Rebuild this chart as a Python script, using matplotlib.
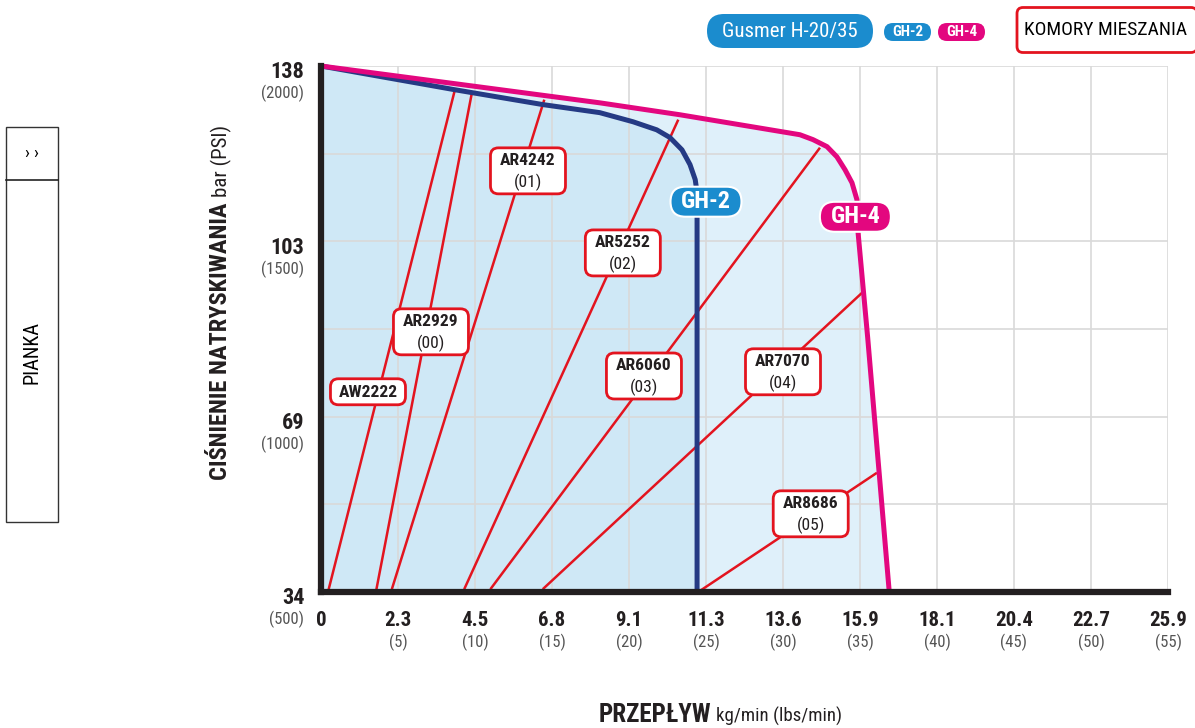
import matplotlib.pyplot as plt
from matplotlib.patches import FancyBboxPatch, Rectangle
from matplotlib.lines import Line2D
import matplotlib.transforms as mtransforms

plt.rcParams['font.family'] = ['Roboto Condensed', 'Roboto', 'DejaVu Sans']

# ---- data (flow in lbs/min, pressure in PSI) ----
kg_labels = ['0', '2.3', '4.5', '6.8', '9.1', '11.3', '13.6', '15.9', '18.1', '20.4', '22.7', '25.9']
lbs_ticks = [0, 5, 10, 15, 20, 25, 30, 35, 40, 45, 50, 55]
psi_ticks = [500, 1000, 1500, 2000]
bar_labels = ['34', '69', '103', '138']

# GH-4 envelope
gh4_x = [0, 18.1, 23.3, 31.1, 31.95, 32.86, 33.5, 34.03, 34.48, 34.8, 34.87, 35.5, 36.9]
gh4_y = [2000, 1895, 1861, 1804, 1790, 1770, 1741, 1704, 1667, 1619, 1527, 1225, 500]
# GH-2 envelope
gh2_x = [0, 8.6, 14.4, 18.1, 20.26, 21.8, 22.66, 23.44, 23.96, 24.3, 24.42, 24.42]
gh2_y = [2000, 1933, 1890, 1867, 1841, 1818, 1796, 1761, 1719, 1676, 1639, 500]

# mixing chambers
ar_names = ['AW2222', 'AR2929', 'AR4242', 'AR5252', 'AR6060', 'AR7070', 'AR8686']
ar_codes = ['', '(00)', '(01)', '(02)', '(03)', '(04)', '(05)']
ar_x0 = [0.5, 3.6, 4.6, 9.3, 11.0, 14.4, 24.6]
ar_y0 = [508, 508, 508, 508, 508, 508, 503]
ar_x1 = [8.7, 9.8, 14.5, 23.2, 32.4, 35.2, 36.1]
ar_y1 = [1933, 1924, 1904, 1847, 1767, 1356, 840]
ar_lx = [3.05, 7.14, 13.44, 19.6, 20.97, 30.0, 31.8]
ar_ly = [1071, 1242, 1701, 1467, 1116, 1128, 723]

W, H = 1195, 728
RED = '#e3141f'
NAVY = '#253a84'
MAG = '#e3077f'
BLUE = '#1b8cce'
DARK = '#231f20'
GREY = '#555555'

fig = plt.figure(figsize=(W / 100, H / 100), dpi=100)
ax = fig.add_axes([321 / W, 1 - 592 / H, 847 / W, 526 / H])
ax.set_xlim(0, 55)
ax.set_ylim(500, 2000)

# fills
ax.fill(gh4_x + [0], gh4_y + [500], color='#dff0fa', lw=0, zorder=1)
ax.fill(gh2_x + [0], gh2_y + [500], color='#cfe8f6', lw=0, zorder=1.1)

# grid
ax.set_xticks(lbs_ticks)
ax.set_xticklabels(kg_labels, fontsize=15, fontweight='bold', color=DARK)
ax.set_yticks(psi_ticks)
ax.set_yticks([750, 1250, 1750], minor=True)
ax.set_yticklabels(bar_labels, fontsize=16, fontweight='bold', color=DARK)
ax.grid(True, which='both', color='#d9d9d9', lw=1.2)
ax.set_axisbelow('line')
ax.tick_params(axis='both', which='both', length=0)
ax.tick_params(axis='x', pad=14)
ax.tick_params(axis='y', pad=12)
shift = mtransforms.ScaledTranslation(0, -4 / 100, fig.dpi_scale_trans)
for lab in ax.get_yticklabels():
    lab.set_transform(lab.get_transform() + shift)
for s in ['top', 'right']:
    ax.spines[s].set_visible(False)
for s in ['left', 'bottom']:
    ax.spines[s].set_linewidth(4.5)
    ax.spines[s].set_color(DARK)
    ax.spines[s].set_zorder(6)

# mixing chamber lines
for i in range(len(ar_names)):
    ax.plot([ar_x0[i], ar_x1[i]], [ar_y0[i], ar_y1[i]], color=RED, lw=1.8, zorder=3,
            solid_capstyle='butt')

ax.plot(gh2_x, gh2_y, color=NAVY, lw=3.6, zorder=4, clip_on=False, solid_joinstyle='round')
ax.plot(gh4_x, gh4_y, color=MAG, lw=3.6, zorder=5, clip_on=False, solid_joinstyle='round')

PIX = mtransforms.IdentityTransform()


def box_at(x, y, w, h, r, fc, ec, lw, trans, z=7):
    t = mtransforms.Affine2D() + mtransforms.ScaledTranslation(x, y, trans)
    p = FancyBboxPatch((-w / 2, -h / 2), w, h, boxstyle='round,pad=0,rounding_size=%g' % r,
                       fc=fc, ec=ec, lw=lw, transform=t, zorder=z, clip_on=False)
    return p


# chamber labels
for i in range(len(ar_names)):
    if ar_codes[i]:
        ax.add_artist(box_at(ar_lx[i], ar_ly[i], 75, 46, 8, 'white', RED, 2, ax.transData))
        ax.annotate(ar_names[i], (ar_lx[i], ar_ly[i]), xytext=(0, 7.5), textcoords='offset points',
                    ha='center', va='center', fontsize=12.6, fontweight='bold', color=DARK, zorder=8)
        ax.annotate(ar_codes[i], (ar_lx[i], ar_ly[i]), xytext=(0, -8), textcoords='offset points',
                    ha='center', va='center', fontsize=12.6, color=DARK, zorder=8)
    else:
        ax.add_artist(box_at(ar_lx[i], ar_ly[i], 75, 26, 8, 'white', RED, 2, ax.transData))
        ax.annotate(ar_names[i], (ar_lx[i], ar_ly[i]), xytext=(0, -0.5), textcoords='offset points',
                    ha='center', va='center', fontsize=12.6, fontweight='bold', color=DARK, zorder=8)

# GH-2 / GH-4 tags on curves
ax.add_artist(box_at(25.0, 1613, 71, 30, 15, BLUE, 'white', 1.5, ax.transData))
ax.text(25.0, 1613, 'GH-2', ha='center', va='center', fontsize=17.4, fontweight='bold',
        color='white', zorder=8)
ax.add_artist(box_at(34.7, 1570, 71, 30, 15, MAG, 'white', 1.5, ax.transData))
ax.text(34.7, 1570, 'GH-4', ha='center', va='center', fontsize=17.4, fontweight='bold',
        color='white', zorder=8)

# secondary tick texts (PSI, lbs/min)
for v in psi_ticks:
    ax.annotate('(%d)' % v, (0, v), xycoords=ax.get_yaxis_transform(), xytext=(-12, -20),
                textcoords='offset points', ha='right', va='center', fontsize=12, color=GREY)
for v in lbs_ticks[1:]:
    ax.annotate('(%d)' % v, (v, 0), xycoords=ax.get_xaxis_transform(), xytext=(0, -36),
                textcoords='offset points', ha='center', va='center', fontsize=12, color=GREY)

# axis titles
fig.text(711 / W, 1 - 722 / H, 'PRZEPŁYW', ha='right', va='baseline', fontsize=18,
         fontweight='bold', color=DARK)
fig.text(716 / W, 1 - 722 / H, 'kg/min (lbs/min)', ha='left', va='baseline', fontsize=13.6,
         color=DARK)
fig.text(227 / W, 1 - 202 / H, 'CIŚNIENIE NATRYSKIWANIA', rotation=90, rotation_mode='anchor',
         ha='right', va='baseline', fontsize=17.6, fontweight='bold', color=DARK)
fig.text(227 / W, 1 - 197 / H, 'bar (PSI)', rotation=90, rotation_mode='anchor',
         ha='left', va='baseline', fontsize=15, color=DARK)

# header
fig.add_artist(box_at(790, H - 31, 166, 34, 17, BLUE, 'none', 0, PIX))
fig.text(790 / W, 1 - 31 / H, 'Gusmer H-20/35', ha='center', va='center', fontsize=15,
         color='white', zorder=8)
fig.add_artist(box_at(907.5, H - 32, 47, 18, 9, BLUE, 'none', 0, PIX))
fig.text(907.5 / W, 1 - 32 / H, 'GH-2', ha='center', va='center', fontsize=10.8,
         fontweight='bold', color='white', zorder=8)
fig.add_artist(box_at(961.5, H - 32, 47, 18, 9, MAG, 'none', 0, PIX))
fig.text(961.5 / W, 1 - 32 / H, 'GH-4', ha='center', va='center', fontsize=10.8,
         fontweight='bold', color='white', zorder=8)
fig.add_artist(box_at(1107, H - 30, 180, 45, 6, 'white', RED, 2, PIX))
fig.text(1106 / W, 1 - 30 / H, 'KOMORY MIESZANIA', ha='center', va='center', fontsize=14,
         color='black', zorder=8)

# left side panel
fig.add_artist(Rectangle((6 / W, 1 - 522 / H), 52 / W, 395 / H, fill=False, ec='#333333',
                         lw=1, transform=fig.transFigure))
fig.add_artist(Line2D([6 / W, 58 / W], [1 - 180 / H, 1 - 180 / H], color='#222222', lw=1.2,
                      transform=fig.transFigure))
fig.text(32 / W, 1 - 153 / H, '› ›', ha='center', va='center', fontsize=13, color='black')
fig.text(32 / W, 1 - 352 / H, 'PIANKA', rotation=90, ha='center', va='center', fontsize=14.6,
         color='black')

fig.savefig('out.png', dpi=100)
